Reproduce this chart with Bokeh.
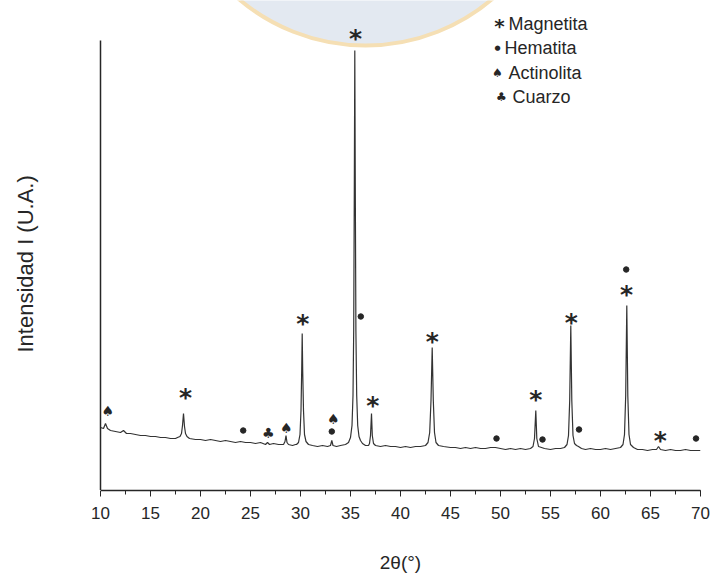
from bokeh.plotting import figure
from bokeh.models import Range1d, SingleIntervalTicker, FixedTicker, ColumnDataSource, Title
from bokeh.core.properties import value
from bokeh.embed import file_html
from bokeh.resources import INLINE

# ---- XRD pattern (2theta in degrees, intensity in a.u.) ----
two_theta = [
    10.0, 10.3, 10.5, 10.7, 11.0, 11.5, 12.0, 12.3, 12.6, 13.0, 13.5, 14.0, 14.5, 15.0, 15.5, 16.0, 16.5, 17.0, 17.5,
    17.7, 17.95, 18.1, 18.2, 18.3, 18.4, 18.5, 18.65, 18.9,
    19.5, 20.0, 20.5, 21.0, 21.5, 22.0, 22.5, 23.0, 23.5, 24.0, 24.5, 25.0, 25.5, 26.0, 26.5, 26.7, 26.9, 27.3, 27.8, 28.3,
    28.45, 28.55, 28.65, 28.8, 29.2, 29.5,
    29.6, 29.8, 29.95, 30.05, 30.12, 30.17, 30.22, 30.3, 30.4, 30.55, 30.8,
    31.2, 31.7, 32.2, 32.7, 33.0, 33.13, 33.25, 33.6, 34.0,
    34.5, 34.8, 35.0, 35.15, 35.25, 35.32, 35.38, 35.43, 35.48, 35.54, 35.62, 35.72, 35.85, 36.0, 36.2, 36.5, 36.8,
    36.9, 37.0, 37.1, 37.18, 37.3, 37.5,
    38.0, 38.5, 39.0, 39.5, 40.0, 40.5, 41.0, 41.5, 42.0,
    42.5, 42.75, 42.92, 43.05, 43.17, 43.28, 43.4, 43.55, 43.8,
    44.3, 45.0, 45.5, 46.0, 46.5, 47.0, 47.5, 48.0, 48.5, 49.0, 49.5, 50.0, 50.5, 51.0, 51.5, 52.0, 52.5, 53.0,
    53.25, 53.4, 53.53, 53.63, 53.8, 54.1, 54.4,
    55.0, 55.5, 56.0, 56.4,
    56.65, 56.8, 56.92, 57.03, 57.13, 57.25, 57.4, 57.6, 57.8, 58.1,
    58.5, 59.0, 59.5, 60.0, 60.5, 61.0, 61.5, 62.0,
    62.25, 62.4, 62.52, 62.63, 62.73, 62.85, 63.0, 63.3,
    63.7, 64.2, 64.7, 65.2, 65.6, 65.8, 66.0, 66.5, 67.0, 67.5, 68.0, 68.5, 69.0, 69.5, 70.0,
]
intensity = [
    63, 62, 67, 62, 60, 59, 58, 60, 57, 57, 56, 55, 55, 54, 54, 53, 53, 52, 52,
    53, 54, 57, 65, 77, 64, 57, 54, 52,
    51, 51, 50, 51, 50, 49, 50, 49, 48, 49, 48, 48, 47, 48, 46, 48, 46, 47, 46, 46,
    49, 55, 48, 46, 45, 46,
    46, 48, 56, 80, 120, 157, 120, 80, 56, 49, 46,
    45, 44, 45, 44, 45, 50, 45, 44, 45,
    46, 48, 53, 65, 95, 160, 300, 440, 300, 160, 95, 65, 54, 50, 47, 45, 45,
    47, 55, 77, 55, 47, 45,
    44, 45, 44, 44, 43, 44, 43, 44, 44,
    45, 48, 58, 90, 143, 90, 58, 48, 45,
    44, 43, 43, 42, 43, 42, 43, 42, 42, 43, 43, 42, 41, 42, 41, 42, 41, 42,
    44, 52, 80, 52, 44, 43, 42,
    41, 42, 42, 43,
    46, 55, 90, 165, 90, 55, 47, 45, 44, 42,
    41, 42, 41, 41, 42, 41, 42, 43,
    46, 56, 95, 185, 95, 56, 46, 43,
    41, 41, 40, 41, 41, 44, 41, 40, 41, 40, 40, 41, 40, 40, 40,
]

# ---- phase markers (position of each symbol) ----
mag_x = [18.5, 30.23, 35.5, 37.23, 43.17, 53.53, 57.07, 62.6, 65.97]
mag_y = [96, 170, 455, 88, 152, 94, 171, 199, 53]
hem_x = [24.27, 33.13, 36.03, 49.6, 54.2, 57.85, 62.57, 69.55]
hem_y = [60, 59, 174, 52, 51, 61, 221, 52]
act_x = [10.73, 28.57, 33.27]
act_y = [80, 63, 72]
cua_x = [26.77]
cua_y = [58]

legend_names = ["Magnetita", "Hematita", "Actinolita", "Cuarzo"]
legend_symbols = ["*", "\u25cf", "\u2660", "\u2663"]
x_ticks = [10, 15, 20, 25, 30, 35, 40, 45, 50, 55, 60, 65, 70]

INK = "#262626"
FONT = "Liberation Sans"

p = figure(width=712, height=577, x_range=Range1d(10, 70), y_range=Range1d(0, 490),
           output_backend="svg", toolbar_location=None,
           min_border_left=100, min_border_right=12, min_border_top=0, min_border_bottom=87)
p.grid.visible = False
p.outline_line_color = None
p.background_fill_color = "white"
p.border_fill_color = "white"

# faint watermark disk at the top (decoration)
p.ellipse(x=[36.5], y=[641], width=[39.2], height=[392], fill_color="#e3e9f1",
          line_color="#f5dfb4", line_width=4)

# pattern
p.line(two_theta, intensity, line_color="#333333", line_width=1.2)

# markers
star_src = ColumnDataSource(dict(x=mag_x, y=mag_y, t=["*"] * len(mag_x)))
p.text(x="x", y="y", text="t", source=star_src, text_font=value("DejaVu Sans"),
       text_font_style="bold", text_font_size="25px", text_color=INK,
       text_align="center", text_baseline="middle", y_offset=3)
p.scatter(hem_x, hem_y, marker="circle", size=5.5, fill_color=INK, line_color=INK)
act_src = ColumnDataSource(dict(x=act_x, y=act_y, t=["\u2660"] * len(act_x)))
p.text(x="x", y="y", text="t", source=act_src, text_font=value("DejaVu Sans"),
       text_font_size="14px", text_color=INK, text_align="center", text_baseline="middle")
cua_src = ColumnDataSource(dict(x=cua_x, y=cua_y, t=["\u2663"] * len(cua_x)))
p.text(x="x", y="y", text="t", source=cua_src, text_font=value("DejaVu Sans"),
       text_font_size="14px", text_color=INK, text_align="center", text_baseline="middle")

# legend (placed in the upper right, layout constants)
leg_y = [467, 443, 418, 394]
leg_sym_x = [49.9, 49.7, 49.7, 50.1]
leg_txt_x = [50.8, 50.4, 50.8, 51.2]
leg_sym_size = ["20px", "7px", "12px", "12px"]
leg_sym_off = [2, 0, 0, 0]
leg_src = ColumnDataSource(dict(sx=leg_sym_x, tx=leg_txt_x, y=leg_y, s=legend_symbols,
                                n=legend_names, fs=leg_sym_size, yo=leg_sym_off))
p.text(x="sx", y="y", text="s", source=leg_src, text_font=value("DejaVu Sans"),
       text_font_size="fs", text_font_style="bold", text_color=INK, text_align="center",
       text_baseline="middle", y_offset="yo")
p.text(x="tx", y="y", text="n", source=leg_src, text_font=value(FONT),
       text_font_size="18px", text_color=INK, text_align="left", text_baseline="middle")

# x axis
xa = p.xaxis[0]
xa.ticker = SingleIntervalTicker(interval=5, num_minor_ticks=2)
xa.bounds = (10, 70)
xa.axis_line_color = INK
xa.axis_line_width = 1.5
xa.major_tick_line_color = INK
xa.minor_tick_line_color = INK
xa.major_tick_out = 6
xa.major_tick_in = 0
xa.minor_tick_out = 4
xa.minor_tick_in = 0
xa.major_label_text_font = FONT
xa.major_label_text_font_size = "17px"
xa.major_label_text_color = INK
xa.major_label_standoff = 10
xa.axis_label = "2\u03b8(\u00b0)"
xa.axis_label_text_font = FONT
xa.axis_label_text_font_style = "normal"
xa.axis_label_text_font_size = "19px"
xa.axis_label_text_color = INK
xa.axis_label_standoff = 30

# y axis with no visible ticks or labels; one white tick reserves room so the
# side title sits near the left edge of the page, lower than centre as in the original
ya = p.yaxis[0]
ya.ticker = FixedTicker(ticks=[0])
ya.bounds = (0, 450)
ya.axis_line_color = INK
ya.axis_line_width = 1.5
ya.major_tick_line_color = "white"
ya.minor_tick_line_color = None
ya.major_tick_out = 58
ya.major_tick_in = 0
ya.major_label_overrides = {0: ""}
ya.major_label_text_color = None
ya.major_label_standoff = 0

p.add_layout(Title(text="Intensidad I (U.A.)", align="left", offset=138, standoff=10,
                   text_font=FONT, text_font_size="22px", text_font_style="normal",
                   text_color=INK), "left")

open("out.html", "w").write(file_html(p, INLINE))
